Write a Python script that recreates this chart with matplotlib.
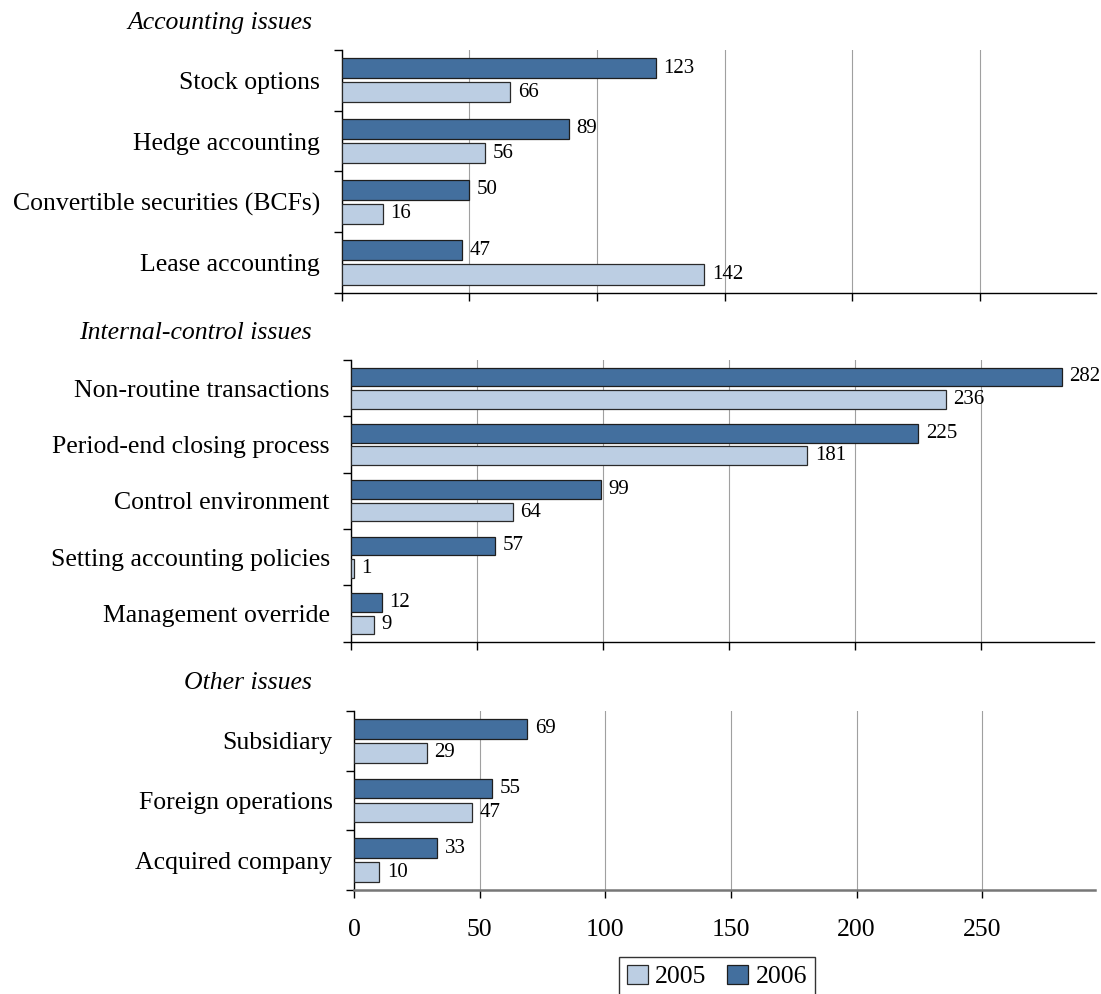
import matplotlib
matplotlib.use("Agg")
import matplotlib.pyplot as plt
from matplotlib.patches import Patch

plt.rcParams['font.family'] = ['Liberation Serif', 'DejaVu Serif']

# ---------------- data ----------------
sec1_title = "Accounting issues"
sec1_cats = ["Stock options", "Hedge accounting", "Convertible securities (BCFs)", "Lease accounting"]
sec1_2006 = [123, 89, 50, 47]
sec1_2005 = [66, 56, 16, 142]

sec2_title = "Internal-control issues"
sec2_cats = ["Non-routine transactions", "Period-end closing process", "Control environment",
             "Setting accounting policies", "Management override"]
sec2_2006 = [282, 225, 99, 57, 12]
sec2_2005 = [236, 181, 64, 1, 9]

sec3_title = "Other issues"
sec3_cats = ["Subsidiary", "Foreign operations", "Acquired company"]
sec3_2006 = [69, 55, 33]
sec3_2005 = [29, 47, 10]

xticks = [0, 50, 100, 150, 200, 250]
legend_labels = ["2005", "2006"]

# ---------------- style ----------------
C2005 = "#bccee3"
C2006 = "#436f9e"
W, H = 1101, 994
fig = plt.figure(figsize=(W / 100, H / 100), dpi=100)

def px_axes(left, top, right, bottom):
    return fig.add_axes([left / W, 1 - bottom / H, (right - left) / W, (bottom - top) / H])

panels = [
    (sec1_title, sec1_cats, sec1_2006, sec1_2005, (341.7, 50, 1096, 292.7), 295.5, 29),
    (sec2_title, sec2_cats, sec2_2006, sec2_2005, (351.3, 360, 1094, 641.7), 294.8, 339),
    (sec3_title, sec3_cats, sec3_2006, sec3_2005, (354, 711, 1095, 890), 294.9, 689),
]

bh = 0.33
off = 0.2
for i, (title, cats, v06, v05, box, xmax, title_base) in enumerate(panels):
    ax = px_axes(*box)
    n = len(cats)
    centers = [k + 0.5 for k in range(n)]
    ax.barh([c - off for c in centers], v06, height=bh, color=C2006,
            edgecolor="#1e1e1e", linewidth=0.9, zorder=3)
    ax.barh([c + off for c in centers], v05, height=bh, color=C2005,
            edgecolor="#2a2a2a", linewidth=0.9, zorder=3)
    for c, v in zip(centers, v06):
        ax.annotate(str(v), (v, c - off), xytext=(5.5, 0), textcoords="offset points",
                    va="center", ha="left", fontsize=15, zorder=4)
    for c, v in zip(centers, v05):
        ax.annotate(str(v), (v, c + off), xytext=(5.5, 0), textcoords="offset points",
                    va="center", ha="left", fontsize=15, zorder=4)
    ax.set_ylim(n, 0)
    ax.set_xlim(0, xmax)
    ax.set_yticks(range(n + 1))
    ax.set_yticklabels([])
    ax.set_yticks(centers, minor=True)
    ax.set_yticklabels(cats, minor=True, fontsize=18.5)
    ax.tick_params(axis="y", which="minor", length=0, pad=15.5)
    ax.tick_params(axis="y", which="major", length=6, width=1.0, direction="out")
    ax.set_xticks(xticks)
    ax.tick_params(axis="x", length=6, width=1.0, direction="out")
    if i < 2:
        ax.set_xticklabels([])
    else:
        ax.set_xticklabels([str(t) for t in xticks], fontsize=18.5)
        ax.tick_params(axis="x", pad=15)
    ax.grid(axis="x", color="#a0a0a0", linewidth=0.8, zorder=0)
    ax.set_axisbelow(True)
    for s in ["top", "right"]:
        ax.spines[s].set_visible(False)
    ax.spines["left"].set_linewidth(1.0)
    if i == 2:
        ax.spines["bottom"].set_color("#777777")
        ax.spines["bottom"].set_linewidth(1.8)
    else:
        ax.spines["bottom"].set_linewidth(1.0)
    fig.text(312 / W, 1 - title_base / H, title, ha="right", va="baseline",
             fontsize=18.5, style="italic")

handles = [Patch(facecolor=C2005, edgecolor="#2a2a2a", linewidth=0.9),
           Patch(facecolor=C2006, edgecolor="#1e1e1e", linewidth=0.9)]
leg = fig.legend(handles, legend_labels, loc="upper center", ncol=2,
                 bbox_to_anchor=(717 / W, 1 - 957 / H), fontsize=18.5, frameon=True,
                 fancybox=False, edgecolor="black", handlelength=0.8, handleheight=0.8,
                 handletextpad=0.3, columnspacing=0.8, borderpad=0.3, borderaxespad=0)
leg.get_frame().set_linewidth(1.0)

fig.savefig("out.png", dpi=100)
